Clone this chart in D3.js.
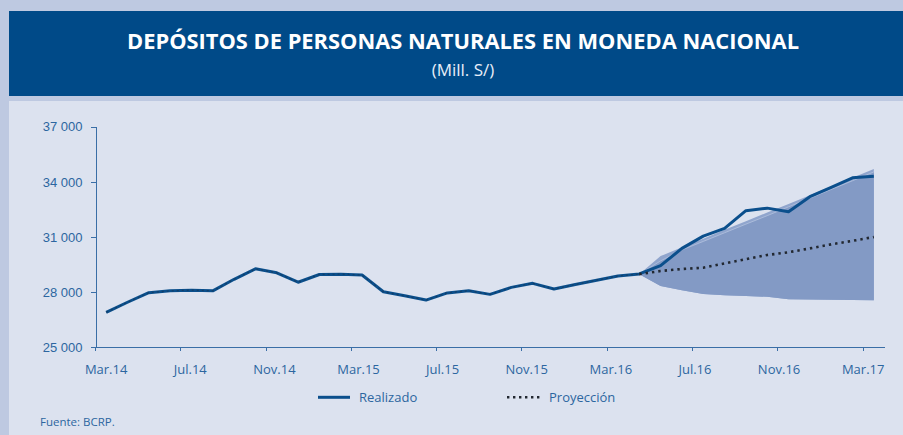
<!DOCTYPE html>
<html>
<head>
  <meta charset="utf-8">
  <title>Depósitos de personas naturales en moneda nacional</title>
  <script src="https://d3js.org/d3.v7.min.js"></script>
  <style>
    body { margin: 0; background: #bec9e1; }
    svg { display: block; font-family: "Open Sans", sans-serif; }
    .axis path, .axis line { fill: none; stroke: #3a6ea6; shape-rendering: crispEdges; }
    .axis text { fill: #2c66a0; font-size: 13px; }
    .title { fill: #fff; font-weight: bold; font-size: 22px; text-anchor: middle; }
    .subtitle { fill: #e8eef8; font-size: 17px; text-anchor: middle; }
    .legend text { fill: #2c66a0; font-size: 13px; }
    .source { fill: #2c66a0; font-size: 11.5px; }
  </style>
</head>
<body>
  <div id="chart"></div>
  <script>
    // Monthly categories, Mar.14 to Mar.17
    const months = d3.timeMonths(new Date(2014, 2, 1), new Date(2017, 3, 1));
    const fmtMonth = d => ["Ene", "Feb", "Mar", "Abr", "May", "Jun", "Jul", "Ago", "Set", "Oct", "Nov", "Dic"][d.getMonth()] + "." + String(d.getFullYear()).slice(2);
    const categories = months.map(fmtMonth);

    const tickLabels = ["Mar.14", "Jul.14", "Nov.14", "Mar.15", "Jul.15", "Nov.15", "Mar.16", "Jul.16", "Nov.16", "Mar.17"];
    const yTicks = [25000, 28000, 31000, 34000, 37000];

    // Realizado, Mar.14 - Mar.17
    const realizado = [
      26900, 27450, 27970, 28070, 28110, 28070, 28700, 29270, 29050, 28540,
      28960, 28980, 28930, 28020, 27800, 27570, 27960, 28080, 27880, 28260,
      28480, 28170, 28420, 28650, 28880, 28990, 29440, 30380, 31050, 31470,
      32430, 32570, 32370, 33190, 33700, 34220, 34310
    ];

    // Proyección y fan chart, Abr.16 - Mar.17
    const projCategories = categories.slice(categories.indexOf("Abr.16"));
    const proyeccion = [28980, 29150, 29260, 29330, 29560, 29790, 30020, 30170, 30380, 30600, 30790, 31000];
    const fanUpper   = [28980, 29960, 30440, 30910, 31390, 31860, 32330, 32800, 33270, 33750, 34220, 34700];
    const fanInner   = [28980, 29700, 30300, 30760, 31230, 31700, 32160, 32640, 33110, 33590, 34060, 34540];
    const fanLower   = [28980, 28330, 28110, 27900, 27830, 27790, 27750, 27610, 27600, 27590, 27570, 27555];

    const W = 903, H = 435;
    const svg = d3.select("#chart").append("svg").attr("width", W).attr("height", H);

    svg.append("rect").attr("width", W).attr("height", H).attr("fill", "#bec9e1");
    svg.append("rect").attr("x", 9).attr("y", 11).attr("width", W - 9).attr("height", 85).attr("fill", "#004a88");
    svg.append("rect").attr("x", 9).attr("y", 101).attr("width", W - 9).attr("height", H - 101).attr("fill", "#dce2ef");

    svg.append("text").attr("class", "title")
      .attr("x", 463).attr("y", 49)
      .attr("textLength", 672).attr("lengthAdjust", "spacingAndGlyphs")
      .text("DEPÓSITOS DE PERSONAS NATURALES EN MONEDA NACIONAL");
    svg.append("text").attr("class", "subtitle")
      .attr("x", 463).attr("y", 76)
      .text("(Mill. S/)");

    // scales
    const x = d3.scaleBand().domain(categories).range([95.5, 884.5]);
    const xc = c => x(c) + x.bandwidth() / 2;
    const y = d3.scaleLinear().domain([25000, 37000]).range([347.3, 126.7]);
    // label positions as in the original (they drift slightly left of the category centre)
    const xLabel = d3.scalePoint().domain(tickLabels).range([xc("Mar.14"), x("Mar.17")]);

    // fan chart
    const area = (lo, hi) => d3.area()
      .x((d, i) => xc(projCategories[i]))
      .y0((d, i) => y(lo[i]))
      .y1((d, i) => y(hi[i]));
    svg.append("path").datum(proyeccion).attr("fill", "#90a5cd").attr("d", area(fanLower, fanUpper));
    svg.append("path").datum(proyeccion).attr("fill", "#839ac5").attr("d", area(fanLower, fanInner));
    svg.append("path").datum(fanInner)
      .attr("fill", "none").attr("stroke", "#b3c2de").attr("stroke-width", 0.8)
      .attr("d", d3.line().x((d, i) => xc(projCategories[i])).y(d => y(d)));

    // axes
    svg.append("g").attr("class", "axis")
      .attr("transform", "translate(95.5,0)")
      .call(d3.axisLeft(y).tickValues(yTicks).tickSize(5).tickPadding(8)
        .tickFormat(d => d3.format(",")(d).replace(",", " ")));

    const xAxis = svg.append("g").attr("class", "axis").attr("transform", "translate(0,347.3)");
    xAxis.append("line").attr("x1", x.range()[0]).attr("x2", x.range()[1]);
    xAxis.selectAll(".tick").data(tickLabels).enter().append("line")
      .attr("x1", d => x(d)).attr("x2", d => x(d)).attr("y1", 0).attr("y2", 4);
    xAxis.selectAll(".lbl").data(tickLabels).enter().append("text")
      .attr("x", d => xLabel(d)).attr("y", 27)
      .attr("text-anchor", "middle")
      .text(d => d);

    // lines
    const line = cats => d3.line().x((d, i) => xc(cats[i])).y(d => y(d));
    svg.append("path").datum(realizado)
      .attr("fill", "none").attr("stroke", "#0b4f8c").attr("stroke-width", 3)
      .attr("stroke-linejoin", "round")
      .attr("d", line(categories));

    // dotted overlay of the historical series (projection series starts from history)
    const histCats = categories.slice(0, categories.indexOf("Abr.16") + 1);
    svg.append("path").datum(realizado.slice(0, histCats.length))
      .attr("fill", "none").attr("stroke", "#1c2a3a").attr("stroke-width", 1.2)
      .attr("stroke-opacity", 0.45).attr("stroke-dasharray", "2,3")
      .attr("d", line(histCats));

    svg.append("path").datum(proyeccion)
      .attr("fill", "none").attr("stroke", "#222831").attr("stroke-width", 2.6)
      .attr("stroke-dasharray", "2.4,4")
      .attr("d", line(projCategories));

    // legend
    const legend = svg.append("g").attr("class", "legend");
    legend.append("line").attr("x1", 318).attr("x2", 350).attr("y1", 397.3).attr("y2", 397.3)
      .attr("stroke", "#0b4f8c").attr("stroke-width", 3);
    legend.append("text").attr("x", 359).attr("y", 402).text("Realizado");
    legend.append("line").attr("x1", 507).attr("x2", 542).attr("y1", 397.3).attr("y2", 397.3)
      .attr("stroke", "#222831").attr("stroke-width", 2.4).attr("stroke-dasharray", "2.4,3.6");
    legend.append("text").attr("x", 549).attr("y", 402).text("Proyección");

    svg.append("text").attr("class", "source").attr("x", 40).attr("y", 426).text("Fuente: BCRP.");
  </script>
</body>
</html>
